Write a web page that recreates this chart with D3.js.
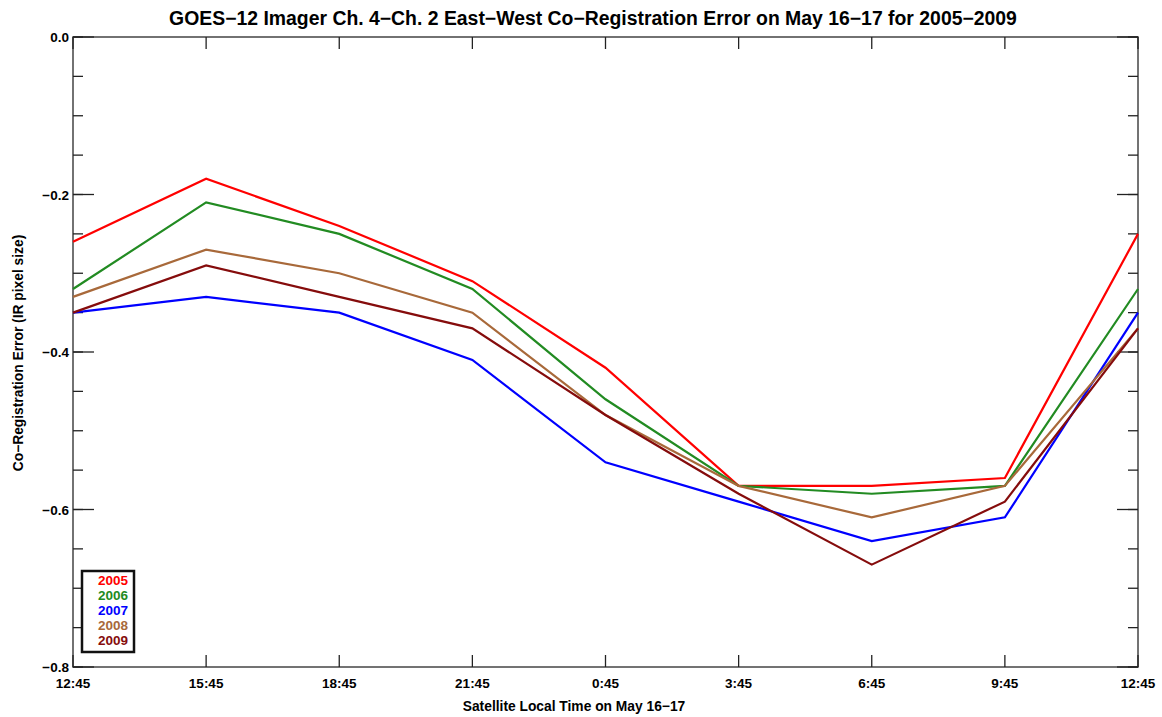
<!DOCTYPE html>
<html>
<head>
<meta charset="utf-8">
<script src="https://cdn.jsdelivr.net/npm/d3@7"></script>
<style>
  body { margin: 0; background: #fff; }
  text { font-family: "Liberation Sans", Arial, sans-serif; font-weight: bold; }
</style>
</head>
<body>
<svg id="chart" width="1162" height="717"></svg>
<script>
// tick labels along x (satellite local time)
var times = ["12:45", "15:45", "18:45", "21:45", "0:45", "3:45", "6:45", "9:45", "12:45"];
var years = ["2005", "2006", "2007", "2008", "2009"];
var colors = ["#ff0000", "#228b22", "#0000ff", "#a8693a", "#850c0c"];

var v2005 = [-0.26, -0.18, -0.24, -0.31, -0.42, -0.57, -0.57, -0.56, -0.25];
var v2006 = [-0.32, -0.21, -0.25, -0.32, -0.46, -0.57, -0.58, -0.57, -0.32];
var v2007 = [-0.35, -0.33, -0.35, -0.41, -0.54, -0.59, -0.64, -0.61, -0.35];
var v2008 = [-0.33, -0.27, -0.30, -0.35, -0.48, -0.57, -0.61, -0.57, -0.37];
var v2009 = [-0.35, -0.29, -0.33, -0.37, -0.48, -0.58, -0.67, -0.59, -0.37];
var series = [v2005, v2006, v2007, v2008, v2009];

var svg = d3.select("#chart"),
    MARGINS = { top: 37, right: 24, bottom: 50, left: 73 },
    WIDTH = 1162, HEIGHT = 717;

var x = d3.scaleLinear().domain([0, times.length - 1]).range([MARGINS.left, WIDTH - MARGINS.right]);
var y = d3.scaleLinear().domain([-0.8, 0]).range([HEIGHT - MARGINS.bottom, MARGINS.top]);

var axisColor = "#444";
var majorY = d3.range(0, 5).map(function(i) { return -0.2 * i; });
var minorY = d3.range(0, 17).map(function(i) { return -0.05 * i; });

// frame
svg.append("rect")
   .attr("x", x(0)).attr("y", y(0))
   .attr("width", x(times.length - 1) - x(0))
   .attr("height", y(-0.8) - y(0))
   .attr("fill", "none").attr("stroke", axisColor).attr("stroke-width", 1.5);

// y ticks, both sides pointing inward
function yTicks(g, len, vals) {
  g.selectAll("line.l").data(vals).enter().append("line")
   .attr("x1", x(0)).attr("x2", x(0) + len)
   .attr("y1", function(d) { return y(d); }).attr("y2", function(d) { return y(d); })
   .attr("stroke", "#222").attr("stroke-width", 1.3);
  g.selectAll("line.r").data(vals).enter().append("line")
   .attr("x1", x(times.length - 1)).attr("x2", x(times.length - 1) - len)
   .attr("y1", function(d) { return y(d); }).attr("y2", function(d) { return y(d); })
   .attr("stroke", "#222").attr("stroke-width", 1.3);
}
yTicks(svg.append("g"), 10, minorY);
yTicks(svg.append("g"), 21, majorY);

// x ticks, top and bottom
svg.append("g").selectAll("line").data(times).enter().append("line")
   .attr("x1", function(d, i) { return x(i); }).attr("x2", function(d, i) { return x(i); })
   .attr("y1", y(-0.8)).attr("y2", y(-0.8) - 12)
   .attr("stroke", "#222").attr("stroke-width", 1.3);
svg.append("g").selectAll("line").data(times).enter().append("line")
   .attr("x1", function(d, i) { return x(i); }).attr("x2", function(d, i) { return x(i); })
   .attr("y1", y(0)).attr("y2", y(0) + 12)
   .attr("stroke", "#222").attr("stroke-width", 1.3);

// tick labels
svg.append("g").selectAll("text").data(majorY).enter().append("text")
   .attr("x", x(0) - 4).attr("y", function(d) { return y(d) + 5; })
   .attr("text-anchor", "end").attr("font-size", 13.5)
   .text(function(d) { return d3.format(".1f")(d).replace("-", "\u2212"); });

svg.append("g").selectAll("text").data(times).enter().append("text")
   .attr("x", function(d, i) { return x(i); }).attr("y", y(-0.8) + 21)
   .attr("text-anchor", "middle").attr("font-size", 13.5)
   .text(function(d) { return d; });

// titles
svg.append("text").attr("x", 593).attr("y", 25).attr("text-anchor", "middle")
   .attr("font-size", 19.4)
   .text("GOES\u221212 Imager Ch. 4\u2212Ch. 2 East\u2212West Co\u2212Registration Error on May 16\u221217 for 2005\u22122009");
svg.append("text").attr("x", 574).attr("y", 711).attr("text-anchor", "middle")
   .attr("font-size", 13.8).text("Satellite Local Time on May 16\u221217");
svg.append("text").attr("transform", "translate(23,353) rotate(-90)")
   .attr("text-anchor", "middle").attr("font-size", 13.8)
   .text("Co\u2212Registration Error (IR pixel size)");

// lines
var lineGen = d3.line()
    .x(function(d, i) { return x(i); })
    .y(function(d) { return y(d); });

series.forEach(function(s, k) {
  svg.append("path")
     .attr("d", lineGen(s))
     .attr("stroke", colors[k])
     .attr("stroke-width", 2.2)
     .attr("fill", "none");
});

// legend
var lg = svg.append("g");
lg.append("rect").attr("x", 82).attr("y", 571).attr("width", 52).attr("height", 81)
  .attr("fill", "#fff").attr("stroke", "#111").attr("stroke-width", 2.5);
lg.selectAll("text").data(years).enter().append("text")
  .attr("x", 128).attr("y", function(d, i) { return 585 + i * 15; })
  .attr("text-anchor", "end").attr("font-size", 13.5)
  .attr("fill", function(d, i) { return colors[i]; })
  .text(function(d) { return d; });
</script>
</body>
</html>
